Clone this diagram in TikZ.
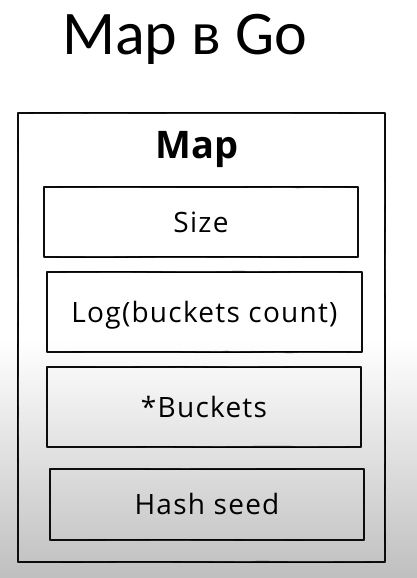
\documentclass[tikz,border=0pt]{standalone}
\usepackage{fontspec}
\setmainfont{Open Sans}
\newfontfamily\titlefont{Carlito}
\newfontfamily\fieldfont[LetterSpace=4.5]{Open Sans}
\usetikzlibrary{decorations.pathmorphing}
\pgfmathsetseed{7}
\tikzset{
  sketch/.style={draw=black, line width=1.3pt, line join=round,
    postaction={draw=black!85, line width=0.7pt,
      decorate, decoration={random steps, segment length=60pt, amplitude=0.7pt}}},
  fieldbox/.style={sketch, rectangle, inner sep=0pt, font=\fieldfont\fontsize{28}{30}\selectfont,
    text height=20pt, text depth=0pt},
}
\begin{document}
\begin{tikzpicture}[x=1pt,y=-1pt]
  \useasboundingbox (0,0) rectangle (417,578);
  \fill[white] (0,0) rectangle (417,340);
  \shade[top color=white, bottom color=black!25] (0,340) rectangle (417,578);
  \node[anchor=base, font=\titlefont\fontsize{62}{64}\selectfont] (title) at (184.5,55) {Map в Go};
  \node[sketch, rectangle, minimum width=367pt, minimum height=449pt] (outer) at (201.5,337.5) {};
  \node[anchor=base, font=\bfseries\fontsize{38}{40}\selectfont] (head) at (197,158) {Map};
  \node[fieldbox, minimum width=314pt, minimum height=70pt] (size) at (201,222) {Size};
  \node[fieldbox, minimum width=315pt, minimum height=80pt] (log) at (204.5,312) {Log(buckets count)};
  \node[fieldbox, minimum width=314pt, minimum height=80pt] (buckets) at (204,407) {*Buckets};
  \node[fieldbox, minimum width=314pt, minimum height=71pt] (hash) at (207,504.5) {Hash seed};
\end{tikzpicture}
\end{document}
